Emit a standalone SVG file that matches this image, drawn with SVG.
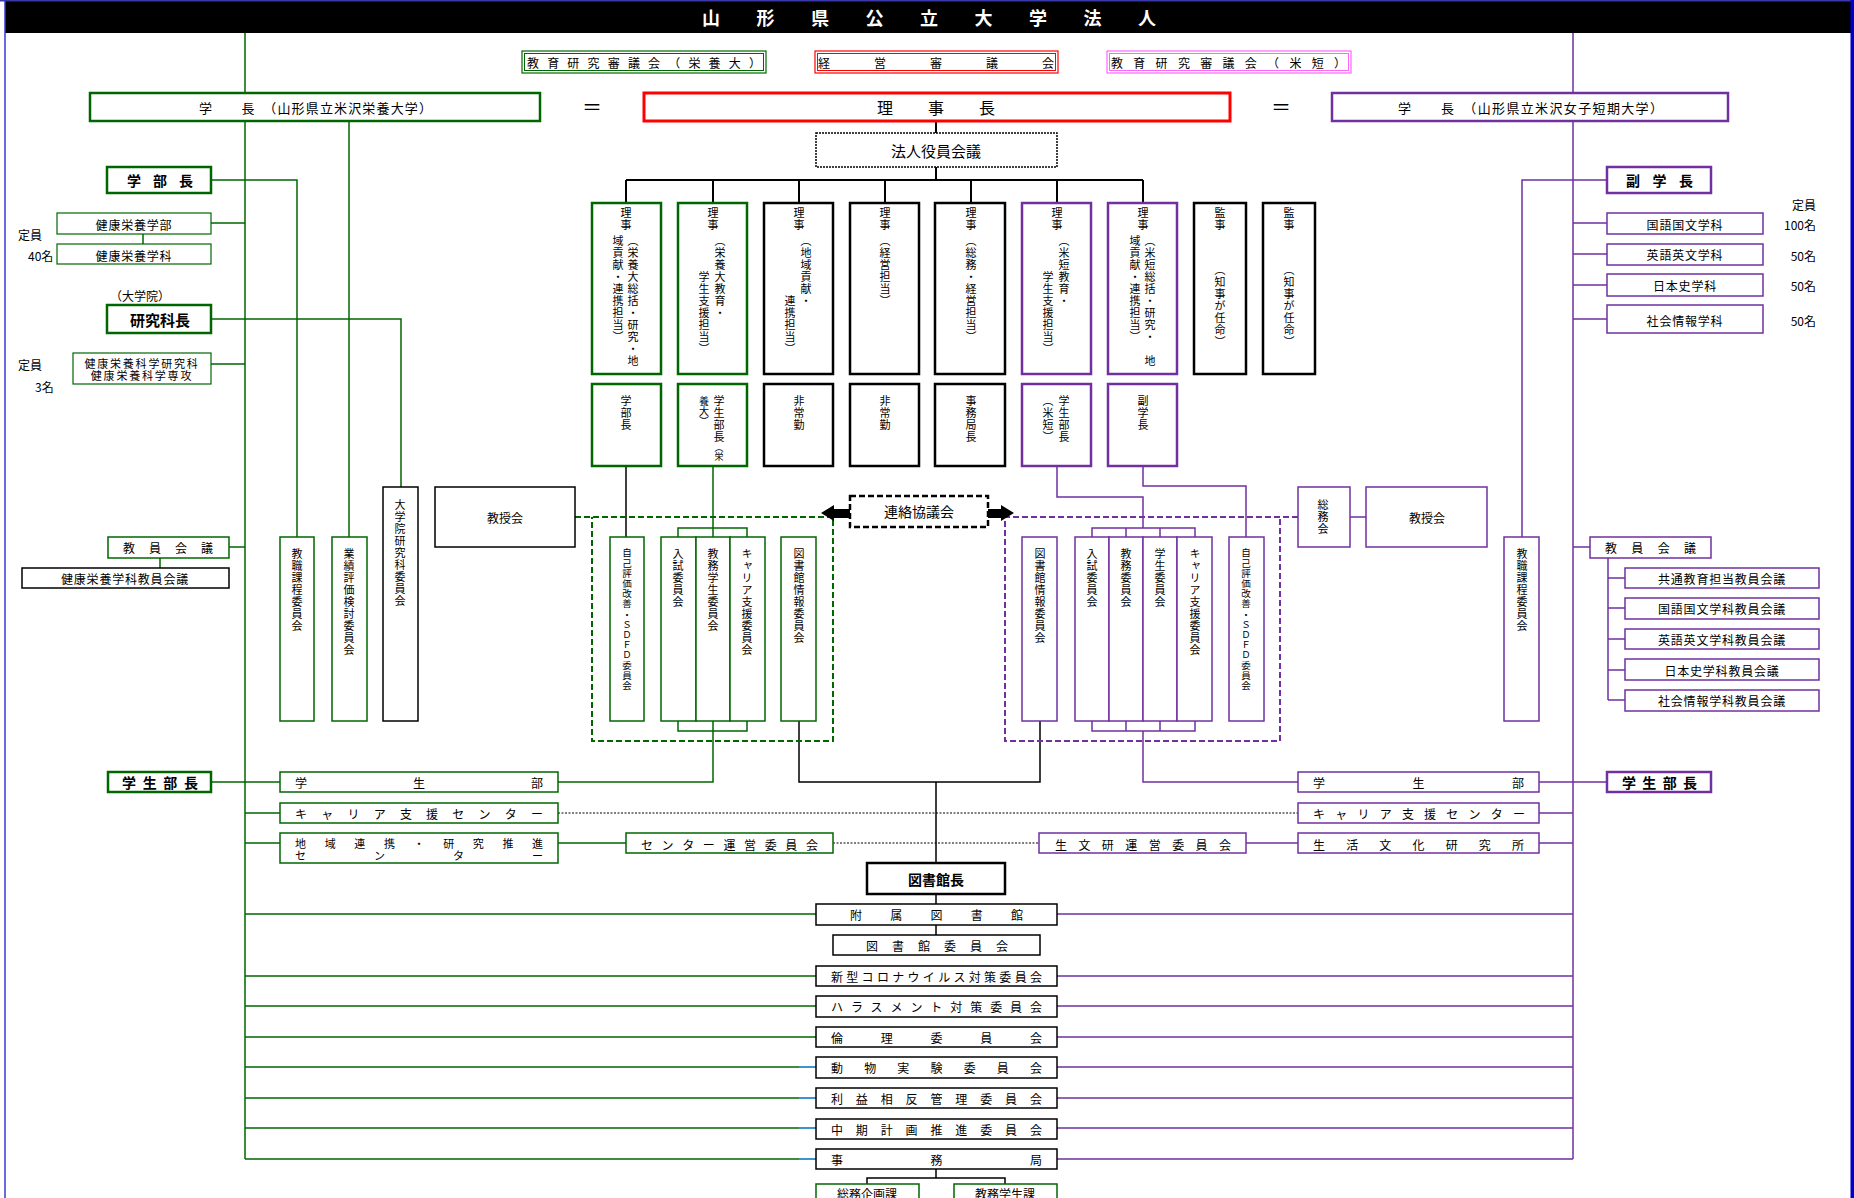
<svg xmlns="http://www.w3.org/2000/svg" width="1854" height="1198" viewBox="0 0 1854 1198">
<style>
text{font-family:"Noto Sans CJK JP","Noto Sans CJK SC",sans-serif;fill:#000;dominant-baseline:central;font-size:12px}
.m{text-anchor:middle}
.ls{letter-spacing:0.8px}
.v{writing-mode:vertical-rl;font-size:11px;letter-spacing:1px}
.sv{font-size:9.5px;letter-spacing:0.7px}
.b{font-weight:bold}
.wt{fill:#fff}
.two{font-size:11px;letter-spacing:1.8px}
rect{fill:#fff}
.g{stroke:#006600}
.p{stroke:#7030a0}
.k{stroke:#000}
.r{stroke:#ff0000}
.pk{stroke:#ff66ff}
.t1{stroke-width:1.5}
.t2{stroke-width:2.5}
.t3{stroke-width:3}
</style>
<rect x="0" y="0" width="1854" height="1198" fill="#fff"/>
<g id="frame">
<rect x="5" y="1" width="1846" height="32" style="fill:#000"/>
<line x1="5" y1="0" x2="5" y2="1198" stroke="#3838d8" stroke-width="1.5"/>
<line x1="0" y1="0.8" x2="1854" y2="0.8" stroke="#3838a8" stroke-width="1.5"/>
<rect x="1850.5" y="0" width="3.5" height="1198" style="fill:#0000cc"/>
<text class="b wt" x="702" y="17" style="font-size:18px" textLength="454" lengthAdjust="spacing">山形県公立大学法人</text>
</g>

<g id="connectors" fill="none">
<path stroke="#000" stroke-width="2" d="M936,121V133M936,167V180M626,180H1143M626,180V203M713,180V203M799,180V203M885,180V203M971,180V203M1057,180V203M1143,180V203"/>
<path stroke="#000" stroke-width="1.5" d="M626,466V537M799,721V782H1040V721M936,782V863M936,894V904M936,925V935M936,1169V1178M867,1184V1178H1005V1184"/>
<path stroke="#006600" stroke-width="1.5" d="M245,33V93M245,121V1159M349,121V537M211,180H297V537M211,223H245M143,234V244M211,319H401V487M211,364H245M229,547H245M160,558V568M211,782H280M245,813H280M245,843H280M558,843H626M713,466V537M678,537V528H747V537M678,721V731H747V721M713,721V782H558M245,914H816M245,976H816M245,1006H816M245,1037H816M245,1067H799M245,1098H799M245,1128H799M245,1159H799"/>
<path stroke="#0070c0" stroke-width="1.5" d="M799,1067H816M799,1098H816M799,1128H816M799,1159H816"/>
<path stroke="#7030a0" stroke-width="1.5" d="M1573,33V93M1573,121V1159M1607,180H1522V537M1573,223H1607M1573,254H1607M1573,285H1607M1573,319H1607M1573,547H1590M1608,558V700M1608,578H1625M1608,608H1625M1608,639H1625M1608,670H1625M1608,700H1625M1057,466V497H1143V528M1092,537V528H1195V537M1126,528V537M1160,528V537M1143,466V486H1246V537M1092,721V731H1195V721M1126,721V731M1160,721V731M1143,731V782H1298M1539,782H1607M1539,813H1573M1539,843H1573M1246,843H1298M1350,517H1366M1057,914H1573M1057,976H1573M1057,1006H1573M1057,1037H1573M1057,1067H1573M1057,1098H1573M1057,1128H1573M1057,1159H1573"/>
<path stroke="#000" stroke-width="1" stroke-dasharray="2,1.5" d="M558,813H1298M833,843H1039"/>
<path stroke="#006600" stroke-width="2" stroke-dasharray="6,3" d="M575,517H833V741H592V517"/>
<path stroke="#7030a0" stroke-width="2" stroke-dasharray="6,3" d="M1298,517H1005V741H1280V517"/>
<polygon fill="#000" points="821,513 834,505 834,509 850,509 850,518 834,518 834,521"/>
<polygon fill="#000" points="1014,513 1001,505 1001,509 988,509 988,518 1001,518 1001,521"/>
</g>

<!-- top councils -->
<g id="kyoiku-eiyo"><rect x="522" y="51" width="244" height="22" class="g" stroke-width="1.2"/><rect x="524.5" y="53.5" width="239" height="17" class="g" stroke-width="1"/><text x="527" y="62" textLength="234" lengthAdjust="spacing">教育研究審議会（栄養大）</text></g>
<g id="keiei"><rect x="815" y="51" width="243" height="22" class="r" stroke-width="1.2"/><rect x="817.5" y="53.5" width="238" height="17" class="r" stroke-width="1"/><text x="818" y="62" textLength="236" lengthAdjust="spacing">経営審議会</text></g>
<g id="kyoiku-tan"><rect x="1107" y="51" width="244" height="22" class="pk" stroke-width="1.2"/><rect x="1109.5" y="53.5" width="239" height="17" class="pk" stroke-width="1"/><text x="1111" y="62" textLength="235" lengthAdjust="spacing">教育研究審議会（米短）</text></g>

<g id="gakucho-eiyo"><rect x="90" y="93" width="450" height="28" class="g t2"/><text x="199" y="107" style="font-size:13px" textLength="233" lengthAdjust="spacing">学　　長　（山形県立米沢栄養大学）</text></g>
<g id="eq1"><text class="m" x="592" y="106" style="font-size:20px">＝</text></g>
<g id="rijicho"><rect x="644" y="93" width="586" height="28" class="r t3"/><text x="877" y="107" style="font-size:16px" textLength="118" lengthAdjust="spacing">理事長</text></g>
<g id="eq2"><text class="m" x="1281" y="106" style="font-size:20px">＝</text></g>
<g id="gakucho-tan"><rect x="1332" y="93" width="396" height="28" class="p t2"/><text x="1398" y="107" style="font-size:13px" textLength="265" lengthAdjust="spacing">学　　長　（山形県立米沢女子短期大学）</text></g>
<g id="yakuin"><rect x="816" y="133" width="241" height="34" class="k" stroke-width="1.5" stroke-dasharray="2,1"/><text class="m" x="936" y="150" style="font-size:15px">法人役員会議</text></g>

<!-- riji row -->
<g id="riji1"><rect x="592" y="203" width="69" height="171" class="g t2"/><text class="v" x="626" y="207">理事</text><text class="v" x="633" y="235">（栄養大総括・研究・地</text><text class="v" x="618" y="235">域貢献・連携担当）</text></g>
<g id="riji2"><rect x="678" y="203" width="69" height="171" class="g t2"/><text class="v" x="713" y="207">理事</text><text class="v" x="720" y="235">（栄養大教育・</text><text class="v" x="704" y="271">学生支援担当）</text></g>
<g id="riji3"><rect x="764" y="203" width="69" height="171" class="k t2"/><text class="v" x="799" y="207">理事</text><text class="v" x="806" y="235">（地域貢献・</text><text class="v" x="790" y="295">連携担当）</text></g>
<g id="riji4"><rect x="850" y="203" width="69" height="171" class="k t2"/><text class="v" x="885" y="207">理事</text><text class="v" x="885" y="235">（経営担当）</text></g>
<g id="riji5"><rect x="935" y="203" width="70" height="171" class="k t2"/><text class="v" x="971" y="207">理事</text><text class="v" x="971" y="235">（総務・経営担当）</text></g>
<g id="riji6"><rect x="1022" y="203" width="69" height="171" class="p t2"/><text class="v" x="1057" y="207">理事</text><text class="v" x="1064" y="235">（米短教育・</text><text class="v" x="1048" y="271">学生支援担当）</text></g>
<g id="riji7"><rect x="1108" y="203" width="69" height="171" class="p t2"/><text class="v" x="1143" y="207">理事</text><text class="v" x="1150" y="235">（米短総括・研究・　地</text><text class="v" x="1135" y="235">域貢献・連携担当）</text></g>
<g id="kanji1"><rect x="1194" y="203" width="52" height="171" class="k t2"/><text class="v" x="1220" y="207">監事</text><text class="v" x="1220" y="264">（知事が任命）</text></g>
<g id="kanji2"><rect x="1263" y="203" width="52" height="171" class="k t2"/><text class="v" x="1289" y="207">監事</text><text class="v" x="1289" y="264">（知事が任命）</text></g>

<!-- second row -->
<g id="gakubucho2"><rect x="592" y="384" width="69" height="82" class="g t2"/><text class="v" x="626" y="395">学部長</text></g>
<g id="gakuseibucho-eiyo"><rect x="678" y="384" width="69" height="82" class="g t2"/><text class="v" x="719" y="395">学生部長<tspan style="font-size:9px;letter-spacing:0">（栄</tspan></text><text class="v" x="704" y="396" style="font-size:10px;letter-spacing:0">養大）</text></g>
<g id="hijokin1"><rect x="764" y="384" width="69" height="82" class="k t2"/><text class="v" x="799" y="395">非常勤</text></g>
<g id="hijokin2"><rect x="850" y="384" width="69" height="82" class="k t2"/><text class="v" x="885" y="395">非常勤</text></g>
<g id="jimukyokucho"><rect x="935" y="384" width="70" height="82" class="k t2"/><text class="v" x="971" y="395">事務局長</text></g>
<g id="gakuseibucho-tan"><rect x="1022" y="384" width="69" height="82" class="p t2"/><text class="v" x="1064" y="395">学生部長</text><text class="v" x="1048" y="395">（米短）</text></g>
<g id="fukugakucho2"><rect x="1108" y="384" width="69" height="82" class="p t2"/><text class="v" x="1143" y="395">副学長</text></g>

<!-- left side -->
<g id="gakubucho"><rect x="107" y="167" width="104" height="26" class="g t2"/><text class="b" x="127" y="180" style="font-size:14px" textLength="66" lengthAdjust="spacing">学部長</text></g>
<g id="kenko-gakubu"><rect x="57" y="213" width="154" height="21" class="g" stroke-width="1.2"/><text class="m ls" x="134" y="224">健康栄養学部</text></g>
<g id="kenko-gakka"><rect x="57" y="244" width="154" height="20" class="g" stroke-width="1.2"/><text class="m ls" x="134" y="255">健康栄養学科</text></g>
<g id="teiin-l"><text x="18" y="234">定員</text><text x="28" y="255">40名</text><text x="110" y="295">（大学院）</text><text x="18" y="364">定員</text><text x="35" y="386">3名</text></g>
<g id="kenkyukacho"><rect x="107" y="305" width="104" height="28" class="g t2"/><text class="b m" x="160" y="319" style="font-size:15px">研究科長</text></g>
<g id="kenkyuka"><rect x="73" y="353" width="138" height="31" class="g" stroke-width="1.2"/><text class="m two" x="142" y="362.5">健康栄養科学研究科</text><text class="m two" x="142" y="375">健康栄養科学専攻</text></g>
<g id="kyoinkaigi-l"><rect x="108" y="537" width="121" height="21" class="g t1"/><text x="123" y="547" textLength="90" lengthAdjust="spacing">教員会議</text></g>
<g id="kenko-kyoinkaigi"><rect x="22" y="568" width="207" height="20" class="k t1"/><text class="m ls" x="125" y="578">健康栄養学科教員会議</text></g>
<g id="kyoshoku-l"><rect x="280" y="537" width="34" height="184" class="g t1"/><text class="v" x="297" y="548">教職課程委員会</text></g>
<g id="gyoseki"><rect x="332" y="537" width="35" height="184" class="g t1"/><text class="v" x="349" y="548">業績評価検討委員会</text></g>
<g id="daigakuin-iinkai"><rect x="383" y="487" width="35" height="234" class="k t1"/><text class="v" x="400" y="499">大学院研究科委員会</text></g>
<g id="kyojukai-l"><rect x="435" y="487" width="140" height="60" class="k t1"/><text class="m" x="505" y="517">教授会</text></g>
<g id="jiko-l"><rect x="610" y="537" width="34" height="184" class="g t1"/><text class="v sv" x="627" y="548">自己評価改善・ＳＤＦＤ委員会</text></g>
<g id="nyushi-l"><rect x="661" y="537" width="35" height="184" class="g t1"/><text class="v" x="678" y="548">入試委員会</text></g>
<g id="kyomugakusei-l"><rect x="696" y="537" width="34" height="184" class="g t1"/><text class="v" x="713" y="548">教務学生委員会</text></g>
<g id="career-l"><rect x="730" y="537" width="35" height="184" class="g t1"/><text class="v" x="747" y="548">キャリア支援委員会</text></g>
<g id="tosho-l"><rect x="781" y="537" width="35" height="184" class="g t1"/><text class="v" x="799" y="548">図書館情報委員会</text></g>
<g id="renraku"><rect x="850" y="496" width="138" height="31" class="k t2" stroke-dasharray="6,3"/><text class="m" x="919" y="511" style="font-size:14px">連絡協議会</text></g>

<!-- right side committees -->
<g id="tosho-r"><rect x="1022" y="537" width="35" height="184" class="p t1"/><text class="v" x="1040" y="548">図書館情報委員会</text></g>
<g id="nyushi-r"><rect x="1075" y="537" width="34" height="184" class="p t1"/><text class="v" x="1092" y="548">入試委員会</text></g>
<g id="kyomu-r"><rect x="1109" y="537" width="34" height="184" class="p t1"/><text class="v" x="1126" y="548">教務委員会</text></g>
<g id="gakusei-r"><rect x="1143" y="537" width="34" height="184" class="p t1"/><text class="v" x="1160" y="548">学生委員会</text></g>
<g id="career-r"><rect x="1177" y="537" width="35" height="184" class="p t1"/><text class="v" x="1195" y="548">キャリア支援委員会</text></g>
<g id="jiko-r"><rect x="1229" y="537" width="35" height="184" class="p t1"/><text class="v sv" x="1246" y="548">自己評価改善・ＳＤＦＤ委員会</text></g>
<g id="somukai"><rect x="1298" y="487" width="52" height="60" class="p t1"/><text class="v" x="1323" y="499">総務会</text></g>
<g id="kyojukai-r"><rect x="1366" y="487" width="121" height="60" class="p t1"/><text class="m" x="1427" y="517">教授会</text></g>
<g id="kyoshoku-r"><rect x="1504" y="537" width="35" height="184" class="p t1"/><text class="v" x="1522" y="548">教職課程委員会</text></g>

<g id="fukugakucho"><rect x="1607" y="167" width="104" height="26" class="p t2"/><text class="b" x="1626" y="180" style="font-size:14px" textLength="67" lengthAdjust="spacing">副学長</text></g>
<g id="kokugo"><rect x="1607" y="213" width="156" height="21" class="p t1"/><text class="m ls" x="1685" y="224">国語国文学科</text></g>
<g id="eigo"><rect x="1607" y="244" width="156" height="21" class="p t1"/><text class="m ls" x="1685" y="254">英語英文学科</text></g>
<g id="nihonshi"><rect x="1607" y="274" width="156" height="22" class="p t1"/><text class="m ls" x="1685" y="285">日本史学科</text></g>
<g id="shakai"><rect x="1607" y="305" width="156" height="28" class="p t1"/><text class="m ls" x="1685" y="320">社会情報学科</text></g>
<g id="teiin-r"><text x="1816" y="204" style="text-anchor:end">定員</text><text x="1816" y="224" style="text-anchor:end">100名</text><text x="1816" y="255" style="text-anchor:end">50名</text><text x="1816" y="285" style="text-anchor:end">50名</text><text x="1816" y="320" style="text-anchor:end">50名</text></g>
<g id="kyoinkaigi-r"><rect x="1590" y="537" width="121" height="21" class="p t1"/><text x="1605" y="547" textLength="91" lengthAdjust="spacing">教員会議</text></g>
<g id="kyotsu"><rect x="1625" y="568" width="194" height="20" class="p t1"/><text class="m ls" x="1722" y="578">共通教育担当教員会議</text></g>
<g id="kokugo-k"><rect x="1625" y="598" width="194" height="21" class="p t1"/><text class="m ls" x="1722" y="608">国語国文学科教員会議</text></g>
<g id="eigo-k"><rect x="1625" y="629" width="194" height="20" class="p t1"/><text class="m ls" x="1722" y="639">英語英文学科教員会議</text></g>
<g id="nihonshi-k"><rect x="1625" y="659" width="194" height="21" class="p t1"/><text class="m ls" x="1722" y="670">日本史学科教員会議</text></g>
<g id="shakai-k"><rect x="1625" y="690" width="194" height="21" class="p t1"/><text class="m ls" x="1722" y="700">社会情報学科教員会議</text></g>

<!-- student affairs rows -->
<g id="gakuseibucho-l"><rect x="108" y="772" width="103" height="20" class="g t2"/><text class="b" x="122" y="782" style="font-size:14px" textLength="76" lengthAdjust="spacing">学生部長</text></g>
<g id="gakuseibu-l"><rect x="280" y="772" width="278" height="20" class="g t1"/><text x="295" y="782" textLength="248" lengthAdjust="spacing">学生部</text></g>
<g id="career-center-l"><rect x="280" y="803" width="278" height="20" class="g t1"/><text x="295" y="813" textLength="248" lengthAdjust="spacing">キャリア支援センター</text></g>
<g id="chiiki-center"><rect x="280" y="833" width="278" height="30" class="g t1"/><text x="295" y="842.5" style="font-size:11px" textLength="248" lengthAdjust="spacing">地域連携・研究推進</text><text x="295" y="855" style="font-size:11px" textLength="248" lengthAdjust="spacing">センター</text></g>
<g id="center-unei"><rect x="626" y="833" width="207" height="20" class="g t1"/><text x="641" y="844" textLength="177" lengthAdjust="spacing">センター運営委員会</text></g>
<g id="seibunken-unei"><rect x="1039" y="833" width="207" height="20" class="p t1"/><text x="1055" y="844" textLength="176" lengthAdjust="spacing">生文研運営委員会</text></g>
<g id="seikatsu"><rect x="1298" y="833" width="241" height="20" class="p t1"/><text x="1313" y="844" textLength="211" lengthAdjust="spacing">生活文化研究所</text></g>
<g id="career-center-r"><rect x="1298" y="803" width="241" height="20" class="p t1"/><text x="1313" y="813" textLength="212" lengthAdjust="spacing">キャリア支援センター</text></g>
<g id="gakuseibu-r"><rect x="1298" y="772" width="241" height="20" class="p t1"/><text x="1313" y="782" textLength="211" lengthAdjust="spacing">学生部</text></g>
<g id="gakuseibucho-r"><rect x="1607" y="772" width="104" height="20" class="p t2"/><text class="b" x="1622" y="782" style="font-size:14px" textLength="75" lengthAdjust="spacing">学生部長</text></g>

<!-- library and common committees -->
<g id="toshokancho"><rect x="867" y="863" width="138" height="31" class="k t2"/><text class="b m" x="936" y="879" style="font-size:14px">図書館長</text></g>
<g id="fuzoku"><rect x="816" y="904" width="241" height="21" class="k t1"/><text x="850" y="914" textLength="173" lengthAdjust="spacing">附属図書館</text></g>
<g id="toshokan-iinkai"><rect x="833" y="935" width="207" height="20" class="k t1"/><text x="866" y="945" textLength="142" lengthAdjust="spacing">図書館委員会</text></g>
<g id="corona"><rect x="816" y="966" width="241" height="20" class="k t1"/><text x="831" y="976" textLength="211" lengthAdjust="spacing">新型コロナウイルス対策委員会</text></g>
<g id="harassment"><rect x="816" y="996" width="241" height="21" class="k t1"/><text x="831" y="1006" textLength="211" lengthAdjust="spacing">ハラスメント対策委員会</text></g>
<g id="rinri"><rect x="816" y="1027" width="241" height="20" class="k t1"/><text x="831" y="1037" textLength="211" lengthAdjust="spacing">倫理委員会</text></g>
<g id="dobutsu"><rect x="816" y="1057" width="241" height="21" class="k t1"/><text x="831" y="1067" textLength="211" lengthAdjust="spacing">動物実験委員会</text></g>
<g id="rieki"><rect x="816" y="1088" width="241" height="20" class="k t1"/><text x="831" y="1098" textLength="211" lengthAdjust="spacing">利益相反管理委員会</text></g>
<g id="chuki"><rect x="816" y="1119" width="241" height="20" class="k t1"/><text x="831" y="1129" textLength="211" lengthAdjust="spacing">中期計画推進委員会</text></g>
<g id="jimukyoku"><rect x="816" y="1149" width="241" height="20" class="k t1"/><text x="831" y="1159" textLength="211" lengthAdjust="spacing">事務局</text></g>
<g id="somukikaku"><rect x="816" y="1184" width="103" height="22" class="g t1"/><text class="m" x="867" y="1193">総務企画課</text></g>
<g id="kyomugakuseika"><rect x="954" y="1184" width="103" height="22" class="g t1"/><text class="m" x="1005" y="1193">教務学生課</text></g>
</svg>
